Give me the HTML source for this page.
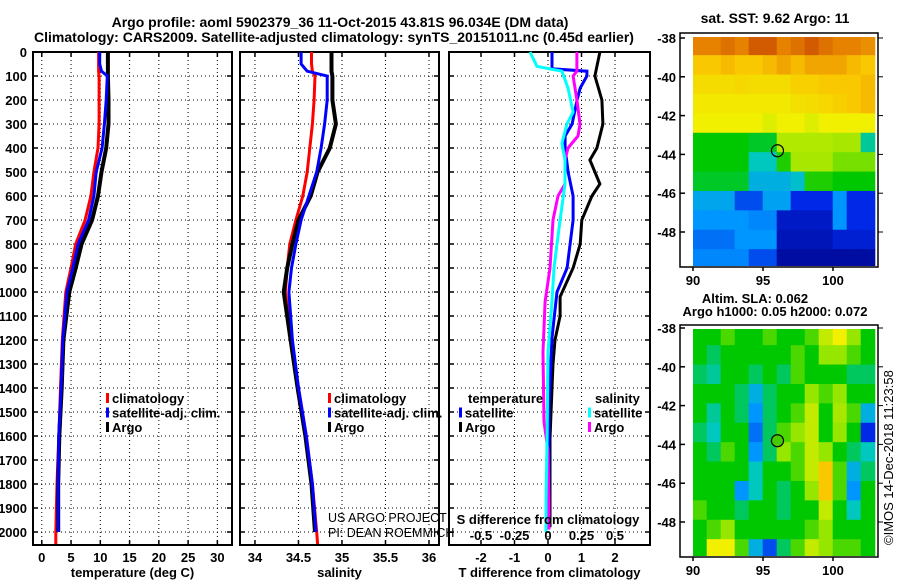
<!DOCTYPE html>
<html><head><meta charset="utf-8">
<style>
html,body{margin:0;padding:0;background:#fff;}
svg{display:block;font-family:"Liberation Sans",Arial,sans-serif;}
.b{font-weight:bold;font-size:13px;}
.t{font-weight:bold;font-size:14px;}
</style></head>
<body>
<svg id="chart" width="900" height="580" viewBox="0 0 900 580" xmlns="http://www.w3.org/2000/svg">
<text class="t" x="340" y="27" text-anchor="middle">Argo profile: aoml 5902379_36 11-Oct-2015 43.81S 96.034E (DM data)</text>
<text class="t" x="334" y="42" text-anchor="middle">Climatology: CARS2009. Satellite-adjusted climatology: synTS_20151011.nc (0.45d earlier)</text>
<g id="panels"></g>
<g id="maps"></g>
<text x="328" y="522" font-size="12.5" fill="#000">US ARGO PROJECT</text>
<text x="328" y="537" font-size="12.5" fill="#000">PI: DEAN ROEMMICH</text>
<text class="b" x="548" y="524" text-anchor="middle">S difference from climatology</text>
<text class="t" x="775" y="23" text-anchor="middle">sat. SST: 9.62 Argo: 11</text>
<text class="b" x="755" y="303" text-anchor="middle">Altim. SLA: 0.062</text>
<text class="b" x="775" y="316" text-anchor="middle">Argo h1000: 0.05 h2000: 0.072</text>
<text x="893" y="545" font-size="13" transform="rotate(-90 893 545)">©IMOS 14-Dec-2018 11:23:58</text>
</svg>
<script>
// ---------- profile data ----------
const depths = [0,50,80,100,200,300,400,500,600,700,800,900,1000,1200,1400,1600,1800,2000,2050];
const tempClim = [9.7,9.7,9.7,9.8,9.8,9.8,9.6,8.9,8.4,7.4,5.8,5.0,4.1,3.5,3.2,2.9,2.6,2.4,2.4];
const tempSat = [9.9,9.9,10.2,11.2,11.0,10.7,10.3,9.3,8.9,8.0,6.2,5.3,4.3,3.6,3.3,2.9,2.8,2.8];
const tempArgo = [11.3,11.3,11.3,11.3,11.4,11.4,11.0,10.2,9.6,8.6,6.8,5.8,4.7,3.7,3.4,3.0,2.8,2.8];
const salClim = [34.65,34.65,34.66,34.69,34.68,34.66,34.63,34.6,34.55,34.47,34.4,34.37,34.35,34.42,34.5,34.59,34.66,34.71,34.72];
const salSat = [34.53,34.53,34.6,34.83,34.83,34.8,34.76,34.71,34.62,34.53,34.47,34.42,34.39,34.43,34.5,34.59,34.66,34.70];
const salArgo = [34.88,34.88,34.88,34.89,34.89,34.93,34.86,34.72,34.64,34.5,34.43,34.37,34.33,34.41,34.49,34.58,34.65,34.69];
const tdArgoDepth = [0,100,200,300,400,450,550,600,700,800,900,1020,1100,1200,1300,1400,1610,1800,1980];
const tdArgo = [1.55,1.40,1.61,1.64,1.46,1.25,1.55,1.31,1.01,0.96,0.75,0.36,0.36,0.21,0.15,0.12,0.06,0.06,0.06];
const tdSatDepth = [0,70,80,100,150,200,300,350,400,500,600,700,800,900,1000,1190,1470,1750,1950];
const tdSat = [0.12,0.12,1.16,1.16,0.96,0.87,0.72,0.51,0.51,0.6,0.75,0.75,0.66,0.57,0.27,0.12,0.03,0.03,0.03];
const sdSatDepth = [0,60,80,150,250,300,380,450,550,700,800,900,1040,1250,1610,1880,2000];
const sdSat = [-0.134,-0.082,0.104,0.149,0.187,0.142,0.104,0.127,0.127,0.09,0.067,0.045,0.03,0,-0.007,-0.015,-0.015];
const sdArgoDepth = [0,80,100,200,300,350,400,450,550,600,700,900,1040,1250,1540,1660,1880,1990];
const sdArgo = [0.216,0.216,0.187,0.216,0.239,0.224,0.149,0.127,0.127,0.075,0.037,0.015,-0.022,-0.037,-0.03,0,0.007,0.007];
const depthTicks = [0,100,200,300,400,500,600,700,800,900,1000,1100,1200,1300,1400,1500,1600,1700,1800,1900,2000];
const tempTicks = [0,5,10,15,20,25,30];
const salTicks = [34,34.5,35,35.5,36];
const salTickLabels = ["34","34.5","35","35.5","36"];
const tdTicks = [-2,-1,0,1,2];
const sdTicks = [-0.5,-0.25,0,0.25,0.5];
const sdTickLabels = ["-0.5","-0.25","0","0.25","0.5"];
// ---------- map data ----------
const lonTicks = [90,95,100];
const latTicks = [-38,-40,-42,-44,-46,-48];
const argoLon = 96.034, argoLat = -43.81;
const sstGrid = [
[.9,.9,.92,.9,.95,.95,.9,.92,.95,.92,.9,.9,.88],
[.8,.8,.82,.8,.8,.82,.85,.82,.85,.85,.85,.82,.8],
[.75,.75,.75,.76,.75,.75,.75,.78,.78,.8,.8,.8,.82],
[.72,.72,.72,.72,.72,.72,.72,.74,.75,.76,.78,.8,.82],
[.7,.7,.7,.7,.7,.68,.7,.7,.68,.7,.7,.7,.7],
[.5,.5,.5,.5,.48,.48,.63,.63,.63,.63,.62,.62,.42],
[.5,.5,.5,.5,.4,.4,.52,.62,.62,.62,.58,.58,.58],
[.48,.48,.48,.48,.35,.35,.35,.38,.52,.52,.5,.5,.5],
[.33,.33,.33,.2,.2,.32,.32,.15,.15,.15,.3,.15,.15],
[.3,.3,.3,.3,.28,.28,.1,.1,.1,.1,.3,.15,.15],
[.25,.25,.25,.3,.3,.3,.08,.08,.08,.08,.12,.12,.12],
[.28,.28,.28,.28,.2,.2,.05,.05,.05,.05,.05,.05,.05]];
const slaGrid = [
[.5,.5,.55,.5,.5,.55,.5,.5,.55,.65,.7,.6,.5],
[.5,.45,.5,.5,.5,.5,.5,.55,.5,.6,.6,.55,.5],
[.45,.42,.5,.5,.45,.5,.45,.55,.5,.5,.5,.45,.45],
[.5,.5,.5,.45,.35,.45,.5,.5,.6,.55,.6,.5,.5],
[.5,.42,.5,.45,.3,.45,.5,.55,.65,.5,.62,.55,.35],
[.45,.4,.5,.5,.25,.45,.55,.6,.65,.5,.6,.5,.15],
[.5,.45,.55,.5,.3,.45,.6,.55,.65,.6,.5,.45,.4],
[.5,.5,.5,.5,.4,.5,.5,.55,.65,.8,.55,.35,.45],
[.5,.5,.5,.3,.4,.5,.45,.5,.6,.8,.55,.3,.5],
[.55,.5,.5,.45,.5,.5,.45,.5,.5,.65,.5,.4,.5],
[.5,.55,.6,.5,.5,.5,.5,.5,.55,.6,.5,.5,.5],
[.5,.7,.7,.55,.35,.2,.45,.55,.65,.6,.55,.55,.5]];

const NS='http://www.w3.org/2000/svg';
function mk(tag, attrs, parent){const e=document.createElementNS(NS,tag);for(const k in attrs)e.setAttribute(k,attrs[k]);parent.appendChild(e);return e;}
const TOP=52, BOT=545;
const yDepth = d => TOP + d*0.24;
const panelsG=document.getElementById('panels');

function panel(name,x0,x1,vmin,vmax,ticks,labels,xtitle){
  const g=mk('g',{},panelsG);
  
  
  const sx=v=>x0+(v-vmin)/(vmax-vmin)*(x1-x0);
  depthTicks.forEach(d=>{const y=yDepth(d);
    mk('line',{x1:x0,x2:x1,y1:y,y2:y,stroke:'#000','stroke-width':1,'stroke-dasharray':'1,3'},g);
    mk('line',{x1:x0,x2:x0+5,y1:y,y2:y,stroke:'#000','stroke-width':1.5},g);
    mk('line',{x1:x1-5,x2:x1,y1:y,y2:y,stroke:'#000','stroke-width':1.5},g);});
  ticks.forEach((t,i)=>{const x=sx(t);
    mk('line',{x1:x,x2:x,y1:TOP,y2:BOT,stroke:'#000','stroke-width':1,'stroke-dasharray':'1,3'},g);
    mk('line',{x1:x,x2:x,y1:BOT-5,y2:BOT,stroke:'#000','stroke-width':1.5},g);
    mk('line',{x1:x,x2:x,y1:TOP,y2:TOP+5,stroke:'#000','stroke-width':1.5},g);
    if(labels){const tl=mk('text',{x:x,y:562,'text-anchor':'middle','class':'b'},g);tl.textContent=labels[i];
      
      }
  });
  mk('rect',{x:x0,y:TOP,width:x1-x0,height:BOT-TOP,fill:'none',stroke:'#000','stroke-width':2},g);
  const tt=mk('text',{x:(x0+x1)/2,y:577,'text-anchor':'middle','class':'b'},g);tt.textContent=xtitle;
  
  
  return {g,sx};
}
function line(p,ds,vs,color,w,name){
  const pts=vs.map((v,i)=>p.sx(v).toFixed(1)+','+yDepth(ds[i]).toFixed(1)).join(' ');
  const l=mk('polyline',{points:pts,fill:'none',stroke:color,'stroke-width':w,'stroke-linejoin':'miter'},p.g);
  
  
}
function legend(g,x,y,items){
  items.forEach((it,i)=>{
    mk('rect',{x:x,y:y+i*14.5-10,width:3,height:10,fill:it[1]},g);
    const t=mk('text',{x:x+6,y:y+i*14.5,'class':'b'},g);t.textContent=it[0];
    
    
  });
}
// depth labels
depthTicks.forEach(d=>{const t=mk('text',{x:27,y:yDepth(d)+5,'text-anchor':'end','class':'b'},panelsG);t.textContent=d;
  
  });

const p1=panel('temperature-panel',33,232,-1.5,32.5,tempTicks,tempTicks.map(String),'temperature (deg C)');
line(p1,depths,tempClim,'#ff0000',3,'temp-climatology-line');
line(p1,depths,tempArgo,'#000',4,'temp-argo-line');
line(p1,depths,tempSat,'#0000ff',3,'temp-satellite-line');
legend(p1.g,106,403,[['climatology','#f00'],['satellite-adj. clim.','#00f'],['Argo','#000']]);

const p2=panel('salinity-panel',240,439,33.828,36.115,salTicks,salTickLabels,'salinity');
line(p2,depths,salClim,'#ff0000',3,'sal-climatology-line');
line(p2,depths,salArgo,'#000',4,'sal-argo-line');
line(p2,depths,salSat,'#0000ff',3,'sal-satellite-line');
legend(p2.g,328,403,[['climatology','#f00'],['satellite-adj. clim.','#00f'],['Argo','#000']]);

const p3=panel('difference-panel',449,650,-2.955,3.045,tdTicks,tdTicks.map(String),'T difference from climatology');
const sS=v=>548+v*134;
line(p3,tdArgoDepth,tdArgo,'#000',3,'tdiff-argo-line');
line(p3,tdSatDepth,tdSat,'#0000ff',3,'tdiff-satellite-line');
const p3s={g:p3.g,sx:v=>sS(v)};
line(p3s,sdArgoDepth,sdArgo,'#ff00ff',3,'sdiff-argo-line');
line(p3s,sdSatDepth,sdSat,'#00ffff',3,'sdiff-satellite-line');
sdTicks.forEach((t,i)=>{const tl=mk('text',{x:sS(t),y:540,'text-anchor':'middle','class':'b'},p3.g);tl.textContent=sdTickLabels[i];
  
  });
const th=mk('text',{x:468,y:403,'class':'b'},p3.g);th.textContent='temperature';


legend(p3.g,459,417.5,[['satellite','#00f'],['Argo','#000']]);
const sh=mk('text',{x:595,y:403,'class':'b'},p3.g);sh.textContent='salinity';


legend(p3.g,588,417.5,[['satellite','#0ff'],['Argo','#f0f']]);

// ---------- maps ----------
const cstops=[[0,[0,0,130]],[0.15,[0,40,230]],[0.3,[0,150,255]],[0.4,[0,200,190]],[0.5,[0,200,0]],[0.6,[150,230,0]],[0.7,[240,240,0]],[0.8,[250,200,0]],[0.9,[230,130,0]],[1,[190,50,0]]];
function cmap(v){for(let i=1;i<cstops.length;i++){if(v<=cstops[i][0]){const a=cstops[i-1],b=cstops[i];const f=(v-a[0])/(b[0]-a[0]);const c=a[1].map((x,k)=>Math.round(x+(b[1][k]-x)*f));return 'rgb('+c.join(',')+')';}}return 'rgb(190,50,0)';}
const mapsG=document.getElementById('maps');
function drawMap(name,grid,fy0,fy1,lat38y,dotFill){
  const g=mk('g',{},mapsG);
  
  
  const mx=lon=>693+(lon-90)*14;
  const my=lat=>lat38y+(-38-lat)*19.4;
  const cid=name+'-clip';
  const cp=mk('clipPath',{id:cid},g);
  mk('rect',{x:693,y:fy0+4,width:878-693,height:fy1-fy0-5},cp);
  const cg=mk('g',{'clip-path':'url(#'+cid+')'},g);
  grid.forEach((row,r)=>row.forEach((v,c)=>{
    const cell=mk('rect',{x:mx(90+c)-0.3,y:my(-37.9-r)-0.3,width:14.6,height:20,fill:cmap(v)},cg);
    
    
  }));
  mk('rect',{x:680,y:fy0,width:198,height:fy1-fy0,fill:'none',stroke:'#000','stroke-width':1.5},g);
  latTicks.forEach(l=>{const y=my(l);
    mk('line',{x1:680,x2:685,y1:y,y2:y,stroke:'#000','stroke-width':1.5},g);
    mk('line',{x1:878,x2:883,y1:y,y2:y,stroke:'#000','stroke-width':1},g);
    const t=mk('text',{x:676,y:y+5,'text-anchor':'end','class':'b'},g);t.textContent=l;
    
    });
  lonTicks.forEach(l=>{const x=mx(l);
    mk('line',{x1:x,x2:x,y1:fy1,y2:fy1+4,stroke:'#000','stroke-width':1.5},g);
    const t=mk('text',{x:x,y:fy1+18,'text-anchor':'middle','class':'b'},g);t.textContent=l;
    
    });
  const dot=mk('circle',{cx:mx(argoLon),cy:my(argoLat),r:6,fill:dotFill,stroke:'#000','stroke-width':1.2},g);
  
  
}
drawMap('sst-map',sstGrid,33,267,38,'none');
drawMap('sla-map',slaGrid,325,557,328,'#44cc00');
</script>
</body></html>
